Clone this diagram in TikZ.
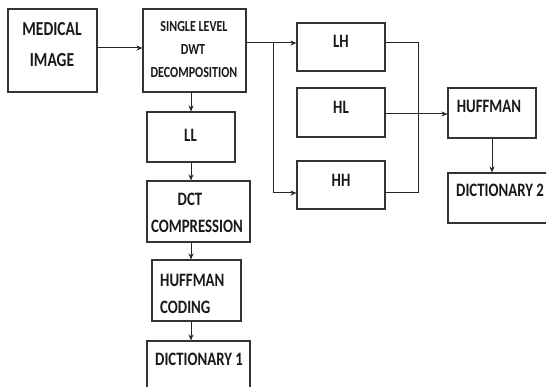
\documentclass[tikz,border=0pt]{standalone}
\usepackage{fontspec}
\usepackage{graphicx}
\setmainfont{Carlito}
\usetikzlibrary{arrows.meta}
\newcommand{\tl}[1]{\scalebox{1}[1.28]{#1}}
\tikzset{
  box/.style={draw=black!80, line width=1.1pt, rectangle, inner sep=0pt},
  conn/.style={draw=black!85, line width=1pt},
  arr/.style={conn, -{Stealth[length=6pt,width=5pt]}},
  txt/.style={inner sep=0pt, text=black!90, font=\fontsize{14.8}{17}\selectfont\bfseries},
  bigtxt/.style={txt, font=\fontsize{15.5}{18}\selectfont\bfseries},
  smalltxt/.style={txt, font=\fontsize{12}{14}\selectfont\bfseries}
}
\newcommand{\bx}[5]{\node[box, minimum width={(#4-#2)*1pt}, minimum height={(#5-#3)*1pt}] (#1) at ({(#2+#4)/2},{(#3+#5)/2}) {};}
\begin{document}
\begin{tikzpicture}[x=1pt,y=-1pt]
\useasboundingbox (0,0) rectangle (546,387);
\clip (0,0) rectangle (546,387);
\fill[white] (0,0) rectangle (546,387);
% boxes
\bx{mi}{8}{9}{97}{92}
\bx{dwt}{143}{9}{246}{92}
\bx{ll}{147}{112}{235}{162}
\bx{dct}{147}{181}{250}{242}
\bx{hc}{152}{260}{241}{321}
\bx{dA}{147}{341}{250}{400}
\bx{lh}{297}{23}{385}{71}
\bx{hl}{297}{88}{385}{137}
\bx{hh}{297}{161}{385}{209}
\bx{hf}{448}{88}{536}{138}
\bx{dB}{448}{173}{560}{223}
% texts
\node[bigtxt, anchor=base] (t1) at (52,36) {\tl{MEDICAL}};
\node[bigtxt, anchor=base] (t2) at (52,67) {\tl{IMAGE}};
\node[smalltxt, anchor=base] (t3) at (194,32) {\tl{SINGLE LEVEL}};
\node[smalltxt, anchor=base] (t4) at (193,55) {\tl{DWT}};
\node[smalltxt, anchor=base] (t5) at (194,78) {\tl{DECOMPOSITION}};
\node[txt, anchor=base] (t6) at (190.5,142) {\tl{LL}};
\node[txt, anchor=base] (t7) at (190,206) {\tl{DCT}};
\node[txt, anchor=base] (t8) at (197,233) {\tl{COMPRESSION}};
\node[txt, anchor=base west] (t9) at (160,287) {\tl{HUFFMAN}};
\node[txt, anchor=base west] (t10) at (160,313) {\tl{CODING}};
\node[txt, anchor=base west] (t11) at (155,365) {\tl{DICTIONARY 1}};
\node[txt, anchor=base] (t12) at (341,48) {\tl{LH}};
\node[txt, anchor=base] (t13) at (341,114) {\tl{HL}};
\node[txt, anchor=base] (t14) at (341,187) {\tl{HH}};
\node[txt, anchor=base] (t15) at (489,113) {\tl{HUFFMAN}};
\node[txt, anchor=base west] (t16) at (456,197) {\tl{DICTIONARY 2}};
% connectors
\coordinate (b1) at (273,43);
\coordinate (b2) at (273,193);
\coordinate (c1) at (418,43);
\coordinate (c2) at (418,193);
\coordinate (ax) at (191,0);
\draw[arr] (mi.east |- 0,48) -- (dwt.west |- 0,48);
\draw[arr] (ax |- dwt.south) -- (ax |- ll.north);
\draw[arr] (ax |- ll.south) -- (ax |- dct.north);
\draw[arr] (ax |- dct.south) -- (ax |- hc.north);
\draw[arr] (ax |- hc.south) -- (ax |- dA.north);
\draw[conn] (dwt.east |- b1) -- (b1);
\draw[arr] (b1) -- (lh.west |- b1);
\draw[arr] (b1) -- (b2) -- (hh.west |- b2);
\draw[conn] (lh.east |- c1) -- (c1) -- (c2) -- (hh.east |- c2);
\draw[arr] (hl.east |- 0,114) -- (hf.west |- 0,114);
\draw[arr] (hf.south) -- (hf.south |- dB.north);
\end{tikzpicture}
\end{document}
